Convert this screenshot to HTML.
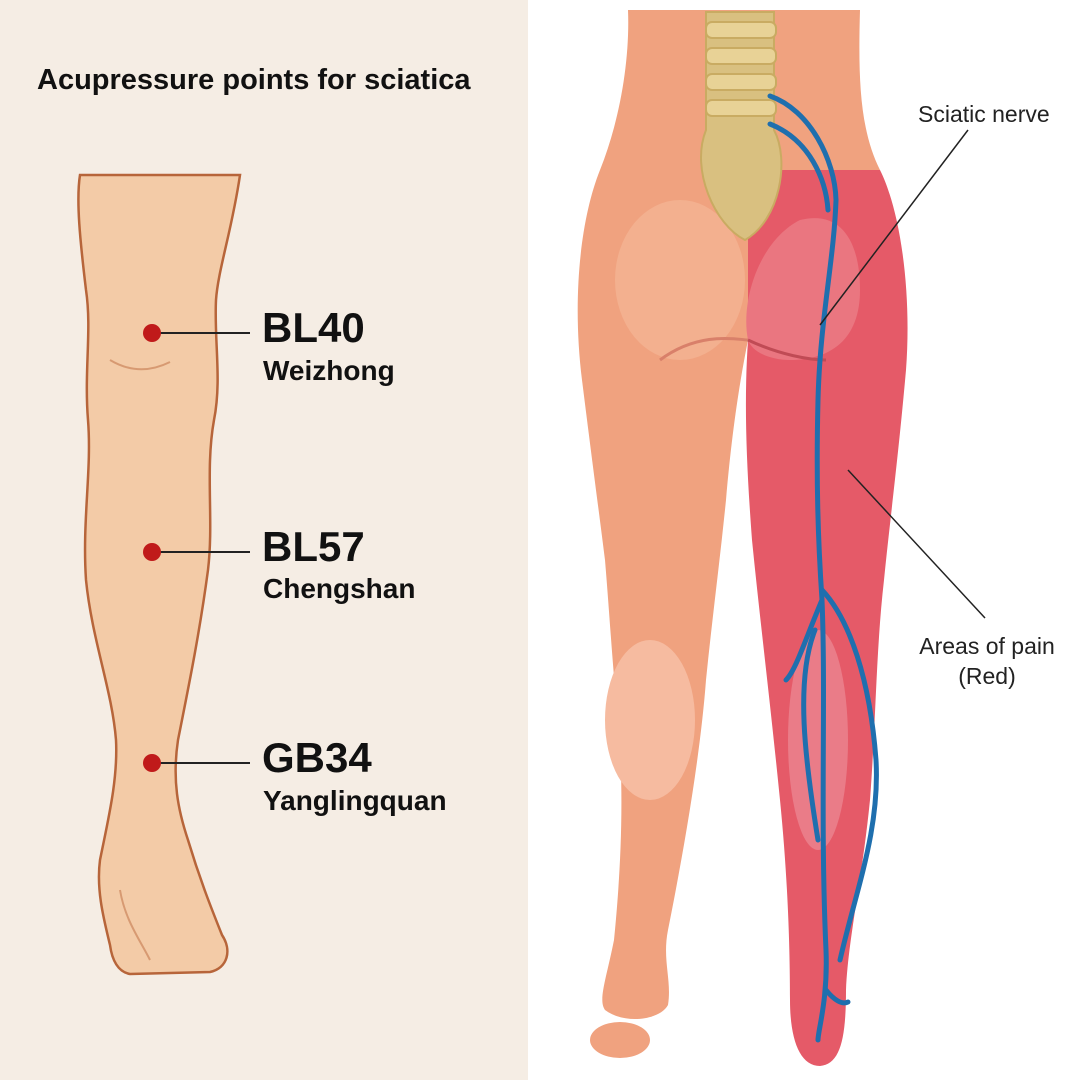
<!DOCTYPE html>
<html><head><meta charset="utf-8"><style>
html,body{margin:0;padding:0;width:1080px;height:1080px;overflow:hidden;background:#fff}
svg{display:block}
text{font-family:"Liberation Sans",sans-serif}
</style></head><body>
<svg width="1080" height="1080" viewBox="0 0 1080 1080">
<rect x="0" y="0" width="528" height="1080" fill="#f5ede4"/>
<rect x="528" y="0" width="552" height="1080" fill="#ffffff"/>
<text x="37" y="89" font-size="29" font-weight="bold" fill="#111">Acupressure points for sciatica</text>

<!-- left leg -->
<path d="M80,175 L240,175 C232,230 218,270 216,300 C214,340 222,380 214,420 C205,470 214,520 208,570 C200,630 190,680 178,740 C172,780 178,810 188,840 C200,880 212,910 222,935 C232,950 228,968 210,972 L130,974 C118,972 112,960 110,945 C104,920 96,890 100,860 C108,820 118,780 116,740 C112,690 92,640 86,580 C82,520 92,470 88,420 C84,370 92,330 86,290 C80,240 76,200 80,175 Z" fill="#f3cba7" stroke="#b7653a" stroke-width="2.5"/>
<path d="M110,360 C130,372 150,372 170,362" fill="none" stroke="#d79a72" stroke-width="2"/>
<path d="M120,890 C125,920 140,940 150,960" fill="none" stroke="#d79a72" stroke-width="2"/>
<g stroke="#222" stroke-width="2">
<line x1="152" y1="333" x2="250" y2="333"/>
<line x1="152" y1="552" x2="250" y2="552"/>
<line x1="152" y1="763" x2="250" y2="763"/>
</g>
<g fill="#c01a1a"><circle cx="152" cy="333" r="9"/><circle cx="152" cy="552" r="9"/><circle cx="152" cy="763" r="9"/></g>
<g fill="#111">
<text x="262" y="342" font-size="42" font-weight="bold">BL40</text>
<text x="263" y="380" font-size="28" font-weight="bold">Weizhong</text>
<text x="262" y="561" font-size="42" font-weight="bold">BL57</text>
<text x="263" y="598" font-size="28" font-weight="bold">Chengshan</text>
<text x="262" y="772" font-size="42" font-weight="bold">GB34</text>
<text x="263" y="810" font-size="28" font-weight="bold">Yanglingquan</text>
</g>

<!-- right body -->
<path d="M628,10 L860,10 C858,80 860,130 880,170 L600,170 C620,120 630,60 628,10 Z" fill="#f0a27f"/>
<path d="M600,170 C580,220 572,300 582,380 C592,460 600,520 605,560 C610,620 612,660 618,720 C625,800 620,880 614,940 C606,980 598,1000 605,1010 C625,1025 660,1020 668,1005 C672,980 662,960 668,930 C682,860 700,760 706,680 C712,620 720,560 726,500 C732,430 740,380 748,340 L748,170 Z" fill="#f0a27f"/>
<path d="M748,170 L880,170 C900,210 912,290 906,370 C898,460 890,520 884,580 C876,650 876,720 870,800 C862,880 848,940 846,990 C846,1040 840,1064 820,1066 C800,1066 790,1040 790,1000 C790,950 788,880 780,800 C770,700 760,620 752,540 C746,460 744,400 748,340 Z" fill="#e55a68"/>
<path d="M748,340 C740,300 760,240 800,220 C840,210 860,240 860,290 C860,340 830,360 790,360 C770,360 752,352 748,340 Z" fill="#ea7680"/>
<ellipse cx="680" cy="280" rx="65" ry="80" fill="#f3b08f"/>
<path d="M660,360 C700,330 740,340 748,340" fill="none" stroke="#d9806a" stroke-width="3"/>
<path d="M748,340 C780,355 810,360 826,360" fill="none" stroke="#c04b55" stroke-width="3"/>
<ellipse cx="650" cy="720" rx="45" ry="80" fill="#f6bba0"/>
<ellipse cx="818" cy="740" rx="30" ry="110" fill="#ea7c88"/>
<ellipse cx="620" cy="1040" rx="30" ry="18" fill="#f0a27f"/>
<!-- spine -->
<path d="M706,12 L774,12 L774,130 C790,160 780,220 745,240 C715,225 690,170 706,130 Z" fill="#d9c080" stroke="#c9ab62" stroke-width="2"/>
<g fill="#e8d296" stroke="#c9ab62" stroke-width="2">
<rect x="706" y="22" width="70" height="16" rx="6"/>
<rect x="706" y="48" width="70" height="16" rx="6"/>
<rect x="706" y="74" width="70" height="16" rx="6"/>
<rect x="706" y="100" width="70" height="16" rx="6"/>
</g>
<!-- nerve -->
<g fill="none" stroke="#1f6fae" stroke-width="5" stroke-linecap="round">
<path d="M770,96 C810,110 835,160 836,200 C834,260 820,320 818,400 C816,480 818,540 822,600 C826,700 820,820 826,950 C828,1000 818,1030 818,1040"/>
<path d="M770,124 C810,140 826,180 828,210"/>
<path d="M822,590 C850,620 870,680 876,760 C880,830 856,890 840,960"/>
<path d="M822,600 C805,640 796,670 786,680"/>
<path d="M815,630 C795,680 805,760 818,840"/>
<path d="M826,990 C834,1000 842,1005 848,1002"/>
</g>
<g stroke="#222" stroke-width="1.5">
<line x1="820" y1="325" x2="968" y2="130"/>
<line x1="848" y1="470" x2="985" y2="618"/>
</g>
<g fill="#222" font-size="23">
<text x="918" y="122">Sciatic nerve</text>
<text x="987" y="654" text-anchor="middle">Areas of pain</text>
<text x="987" y="684" text-anchor="middle">(Red)</text>
</g>
</svg>
</body></html>
